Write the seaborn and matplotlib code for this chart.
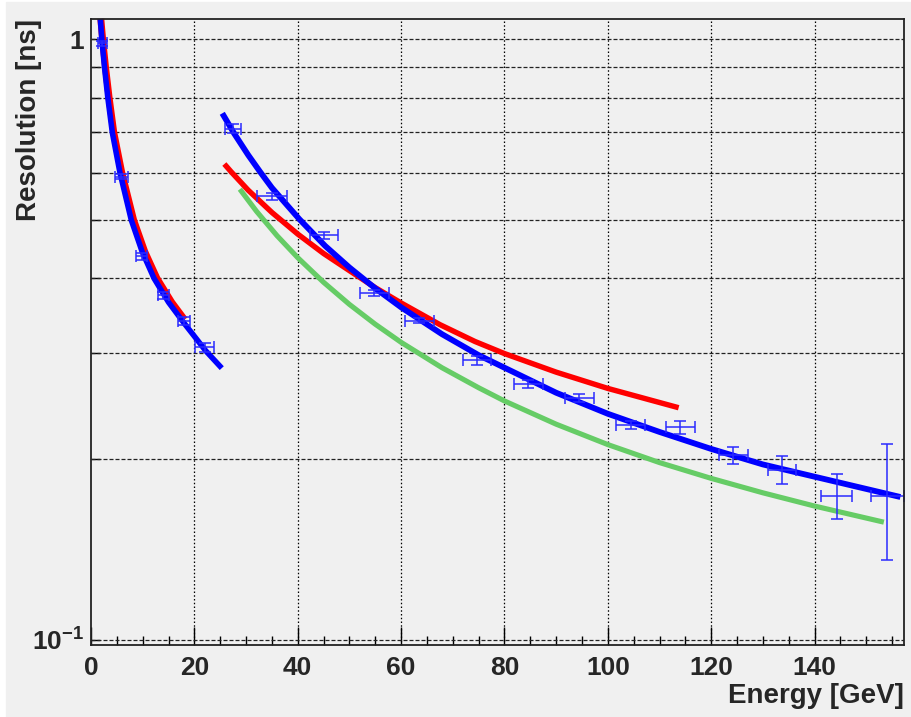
import matplotlib
matplotlib.use("Agg")
import matplotlib.pyplot as plt
from matplotlib.patches import Rectangle
from matplotlib.ticker import FixedLocator, FixedFormatter, MultipleLocator, NullFormatter
import seaborn as sns

# ---- measured resolution points (energy in GeV, resolution in ns) ----
low_energy = [2.2, 5.9, 9.8, 14.0, 18.0, 22.0]
low_energy_err = [0.9, 1.3, 1.0, 1.1, 1.2, 1.8]
low_res = [0.985, 0.591, 0.435, 0.375, 0.340, 0.307]
low_res_err = [0.010, 0.006, 0.006, 0.005, 0.005, 0.005]

high_energy = [27.5, 35.1, 45.0, 54.8, 63.5, 74.6, 84.6, 94.5, 104.4, 114.0,
               124.3, 133.7, 144.3, 154.1]
high_energy_err = [1.55, 2.9, 2.7, 2.8, 2.8, 2.7, 2.8, 2.8, 2.8, 2.8,
                   2.8, 2.8, 3.0, 3.2]
high_res = [0.710, 0.548, 0.472, 0.378, 0.340, 0.292, 0.267, 0.253, 0.228, 0.226,
            0.203, 0.192, 0.174, 0.174]
high_res_err = [0.013, 0.007, 0.006, 0.0043, 0.0033, 0.0045, 0.0041, 0.0039, 0.0035,
                0.0058, 0.0068, 0.0103, 0.0147, 0.038]

# ---- fitted resolution curves ----
fit_low_blue_x = [1.8, 2.1, 2.6, 3.25, 4.12, 5.6, 7.8, 9.9, 12.2, 15.0, 18.0, 22.2, 25.3]
fit_low_blue_y = [1.081, 1.0, 0.9, 0.8, 0.7, 0.6, 0.5, 0.443, 0.4, 0.365, 0.337, 0.303, 0.2835]

fit_low_red_x = [1.9, 2.25, 2.8, 3.5, 4.4, 5.95, 8.25, 10.4, 12.75, 15.6, 18.1]
fit_low_red_y = [1.081, 1.0, 0.9, 0.8, 0.7, 0.6, 0.5, 0.443, 0.4, 0.365, 0.3415]

fit_high_blue_x = [25.4, 27.7, 30.4, 32.7, 35.0, 40.3, 45.3, 50.0, 55.0, 60.0, 67.9,
                   75.0, 80.0, 90.0, 100.0, 110.0, 120.0, 130.0, 140.0, 156.6]
fit_high_blue_y = [0.753, 0.697, 0.642, 0.602, 0.566, 0.502, 0.453, 0.417, 0.385, 0.358,
                   0.323, 0.298, 0.284, 0.258, 0.238, 0.222, 0.208, 0.196, 0.187, 0.173]

fit_high_red_x = [25.8, 27.1, 30.4, 35.0, 40.0, 45.0, 50.0, 55.0, 60.0, 67.5, 74.3,
                  80.0, 90.0, 100.0, 113.7]
fit_high_red_y = [0.620, 0.602, 0.561, 0.515, 0.474, 0.440, 0.412, 0.386, 0.364, 0.335,
                  0.314, 0.2998, 0.2792, 0.2623, 0.2436]

fit_green_x = [28.8, 32.0, 36.0, 40.0, 45.0, 50.0, 55.0, 60.0, 67.9, 75.0, 80.0, 90.0,
               100.0, 110.0, 120.0, 130.0, 140.0, 153.4]
fit_green_y = [0.563, 0.5175, 0.471, 0.433, 0.394, 0.362, 0.3355, 0.313, 0.284, 0.263,
               0.250, 0.2287, 0.2115, 0.1974, 0.1858, 0.1758, 0.1671, 0.1571]

x_ticks = [0, 20, 40, 60, 80, 100, 120, 140]
y_major = [0.1, 1.0]
y_major_labels = [r"$10^{-1}$", "1"]
y_minor = [0.2, 0.3, 0.4, 0.5, 0.6, 0.7, 0.8, 0.9]

BG = "#f0f0f0"
BLUE = "#0000ff"
RED = "#ff0000"
GREEN = "#66cc66"
BAR = "#2a2aff"

sns.set_theme(style="ticks")
plt.rcParams["font.family"] = ["Liberation Sans", "DejaVu Sans"]
plt.rcParams["font.weight"] = "bold"
plt.rcParams["mathtext.fontset"] = "custom"
plt.rcParams["mathtext.rm"] = "Liberation Sans:bold"
plt.rcParams["mathtext.it"] = "Liberation Sans:bold"
plt.rcParams["mathtext.bf"] = "Liberation Sans:bold"
plt.rcParams["mathtext.default"] = "rm"

W, H = 912, 717
fig = plt.figure(figsize=(W / 100, H / 100), dpi=100, facecolor="white")
fig.patches.append(Rectangle((6 / W, 0), 1 - 6 / W, 1 - 2 / H,
                             transform=fig.transFigure, color=BG, zorder=-10))
ax = fig.add_axes([91 / W, 1 - 645 / H, 813 / W, 626 / H])
ax.set_facecolor(BG)

curve_kw = dict(ax=ax, estimator=None, sort=False, legend=False)
sns.lineplot(x=fit_green_x, y=fit_green_y, color=GREEN, lw=3.7, zorder=3, **curve_kw)
sns.lineplot(x=fit_high_red_x, y=fit_high_red_y, color=RED, lw=3.9, zorder=4, **curve_kw)
sns.lineplot(x=fit_high_blue_x, y=fit_high_blue_y, color=BLUE, lw=4.2, zorder=5, **curve_kw)
sns.lineplot(x=fit_low_red_x, y=fit_low_red_y, color=RED, lw=5.0, zorder=4, **curve_kw)
sns.lineplot(x=fit_low_blue_x, y=fit_low_blue_y, color=BLUE, lw=4.0, zorder=5, **curve_kw)
for ln in ax.get_lines():
    ln.set_solid_capstyle("butt")
    ln.set_solid_joinstyle("round")
    ln.set_clip_on(False)

err_kw = dict(fmt="none", ecolor=BAR, elinewidth=1.1, capsize=4.5, capthick=1.1, zorder=6)
ax.errorbar(low_energy, low_res, xerr=low_energy_err, yerr=low_res_err, **err_kw)
ax.errorbar(high_energy, high_res, xerr=high_energy_err, yerr=high_res_err, **err_kw)

ax.set_yscale("log")
ax.set_xlim(0, 157.3)
ax.set_ylim(0.0981, 1.081)

ax.xaxis.set_major_locator(FixedLocator(x_ticks))
ax.xaxis.set_minor_locator(MultipleLocator(5))
ax.yaxis.set_major_locator(FixedLocator(y_major))
ax.yaxis.set_major_formatter(FixedFormatter(y_major_labels))
ax.yaxis.set_minor_locator(FixedLocator(y_minor))
ax.yaxis.set_minor_formatter(NullFormatter())

ax.tick_params(axis="x", which="major", direction="in", length=13, width=1.0,
               color="black", labelsize=19, pad=8)
ax.tick_params(axis="x", which="minor", direction="in", length=6.5, width=1.0, color="black")
ax.tick_params(axis="y", which="both", direction="in", length=6.5, width=1.0,
               color="black", labelsize=19, pad=5)
for lab in ax.get_xticklabels() + ax.get_yticklabels():
    lab.set_fontweight("bold")

ax.grid(False)
for xv in x_ticks[1:]:
    ax.axvline(xv, color="black", lw=0.9, ls=(0, (1.2, 1.8)), zorder=1)
for yv in y_major + y_minor:
    ax.axhline(yv, color="#222222", lw=0.9, ls=(0, (3.2, 1.6)), zorder=1)

for sp in ax.spines.values():
    sp.set_color("#222222")
    sp.set_linewidth(1.3)
    sp.set_visible(True)
    sp.set_zorder(7)

ax.set_xlabel("Energy [GeV]", fontsize=20, fontweight="bold")
ax.xaxis.label.set_ha("right")
ax.xaxis.label.set_va("center")
ax.xaxis.set_label_coords(1.0, -0.0815)
ax.set_ylabel("Resolution [ns]", fontsize=20, fontweight="bold")
ax.yaxis.label.set_ha("right")
ax.yaxis.label.set_va("center")
ax.yaxis.set_label_coords(-0.0763, 1.0)

fig.savefig("out.png", dpi=100, facecolor=fig.get_facecolor())
